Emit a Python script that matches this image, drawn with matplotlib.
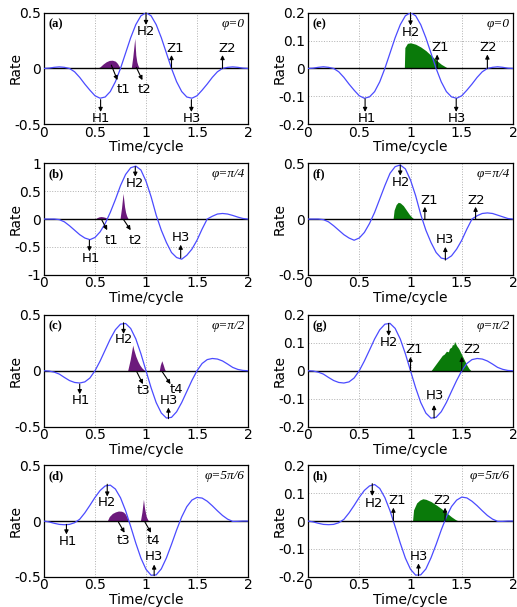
#!/usr/bin/env python

"""
Rate vs time/cycle for four phases (left: purple, right: green).
"""

import numpy as np
import matplotlib
matplotlib.use('Agg')
import matplotlib.pyplot as plt

plt.rcParams['font.family'] = ['DejaVu Sans']

# sampling grid of the curves (time/cycle)
time = np.linspace(0, 2, 41)

# left column
rate_a = [0, 0.003, 0.01, 0.014, 0.01, 0, -0.03, -0.08, -0.14, -0.195, -0.245,
	-0.267, -0.256, -0.207, -0.119, 0, 0.138, 0.276, 0.393, 0.472, 0.5,
	0.472, 0.393, 0.276, 0.138, 0, -0.119, -0.207, -0.256, -0.267, -0.245,
	-0.195, -0.14, -0.08, -0.03, 0, 0.01, 0.014, 0.01, 0.003, 0]
rate_b = [0, 0, 0, -0.01, -0.05, -0.12, -0.2, -0.28, -0.34, -0.37, -0.33,
	-0.23, -0.08, 0.12, 0.35, 0.6, 0.8, 0.92, 0.95, 0.88, 0.68,
	0.4, 0.07, -0.2, -0.42, -0.6, -0.69, -0.72, -0.65, -0.54, -0.38,
	-0.18, 0.0, 0.05, 0.09, 0.1, 0.09, 0.065, 0.035, 0.01, 0]
rate_c = [0, -0.003, -0.012, -0.03, -0.06, -0.088, -0.105, -0.11, -0.1, -0.065, 0,
	0.087, 0.186, 0.285, 0.368, 0.418, 0.424, 0.379, 0.286, 0.153, 0,
	-0.153, -0.286, -0.379, -0.424, -0.418, -0.368, -0.285, -0.186, -0.087, 0,
	0.065, 0.1, 0.11, 0.105, 0.088, 0.06, 0.03, 0.012, 0.003, 0]
rate_d = [0, -0.008, -0.02, -0.03, -0.033, -0.03, -0.015, 0.016, 0.073, 0.141, 0.212,
	0.274, 0.315, 0.322, 0.287, 0.209, 0.093, -0.049, -0.198, -0.332, -0.433,
	-0.486, -0.483, -0.429, -0.331, -0.209, -0.08, 0.037, 0.129, 0.188, 0.212,
	0.206, 0.178, 0.137, 0.092, 0.05, 0.017, -0.003, -0.002, 0, 0]

# right column
rate_e = [0, 0.001, 0.004, 0.006, 0.004, 0, -0.012, -0.032, -0.056, -0.078, -0.098,
	-0.107, -0.102, -0.083, -0.048, 0, 0.055, 0.11, 0.157, 0.189, 0.2,
	0.189, 0.157, 0.11, 0.055, 0, -0.048, -0.083, -0.102, -0.107, -0.098,
	-0.078, -0.056, -0.032, -0.012, 0, 0.004, 0.006, 0.004, 0.001, 0]
rate_f = [0, 0, 0, -0.005, -0.025, -0.06, -0.1, -0.14, -0.17, -0.19, -0.17,
	-0.12, -0.04, 0.06, 0.18, 0.3, 0.41, 0.47, 0.485, 0.45, 0.35,
	0.21, 0.04, -0.1, -0.21, -0.3, -0.35, -0.36, -0.33, -0.27, -0.19,
	-0.09, 0.0, 0.03, 0.05, 0.055, 0.05, 0.035, 0.02, 0.005, 0]
rate_g = [0, -0.001, -0.005, -0.012, -0.024, -0.035, -0.042, -0.044, -0.04, -0.026, 0,
	0.035, 0.074, 0.114, 0.147, 0.167, 0.17, 0.152, 0.114, 0.061, 0,
	-0.061, -0.114, -0.152, -0.17, -0.167, -0.147, -0.114, -0.074, -0.035, 0,
	0.026, 0.04, 0.044, 0.042, 0.035, 0.024, 0.012, 0.005, 0.001, 0]
rate_h = [0, -0.003, -0.008, -0.012, -0.013, -0.012, -0.006, 0.006, 0.029, 0.056, 0.085,
	0.11, 0.126, 0.131, 0.117, 0.084, 0.037, -0.02, -0.079, -0.133, -0.173,
	-0.194, -0.193, -0.172, -0.132, -0.084, -0.032, 0.015, 0.052, 0.075, 0.086,
	0.083, 0.071, 0.055, 0.037, 0.02, 0.007, -0.001, -0.001, 0, 0]

# shaded pulses (x, y)
fills_a = [
	([0.52, 0.55, 0.58, 0.61, 0.64, 0.67, 0.70, 0.72, 0.74, 0.75],
	 [0, 0.015, 0.04, 0.06, 0.072, 0.074, 0.065, 0.045, 0.015, 0]),
	([0.855, 0.87, 0.89, 0.9, 0.91, 0.92, 0.93, 0.94],
	 [0, 0.1, 0.27, 0.12, 0.06, 0.03, 0.01, 0]),
]
fills_b = [
	([0.5, 0.52, 0.54, 0.56, 0.58, 0.6, 0.62, 0.63],
	 [0, 0.025, 0.04, 0.045, 0.04, 0.03, 0.012, 0]),
	([0.745, 0.76, 0.775, 0.79, 0.8, 0.81, 0.82, 0.83],
	 [0, 0.2, 0.46, 0.22, 0.12, 0.06, 0.02, 0]),
]
fills_c = [
	([0.82, 0.845, 0.87, 0.88, 0.9, 0.92, 0.94, 0.96, 0.98, 0.99],
	 [0, 0.1, 0.23, 0.19, 0.13, 0.085, 0.05, 0.025, 0.008, 0]),
	([1.13, 1.14, 1.155, 1.17, 1.18, 1.19],
	 [0, 0.05, 0.09, 0.05, 0.02, 0]),
]
fills_d = [
	([0.62, 0.64, 0.67, 0.7, 0.73, 0.76, 0.78, 0.8, 0.82, 0.83],
	 [0, 0.04, 0.068, 0.082, 0.09, 0.088, 0.08, 0.06, 0.02, 0]),
	([0.945, 0.96, 0.975, 0.985, 1.0, 1.01, 1.02, 1.03],
	 [0, 0.08, 0.195, 0.12, 0.05, 0.025, 0.008, 0]),
]
fills_e = [
	([0.94, 0.945, 0.97, 1.0, 1.05, 1.1, 1.15, 1.2, 1.25, 1.3, 1.35, 1.37],
	 [0, 0.075, 0.09, 0.092, 0.087, 0.077, 0.064, 0.047, 0.03, 0.015, 0.004, 0]),
]
fills_f = [
	([0.83, 0.84, 0.86, 0.88, 0.9, 0.93, 0.96, 0.99, 1.02, 1.04],
	 [0, 0.08, 0.13, 0.15, 0.145, 0.12, 0.08, 0.04, 0.01, 0]),
]
fills_g = [
	([1.2, 1.23, 1.26, 1.29, 1.31, 1.33, 1.35, 1.37, 1.38, 1.4, 1.41, 1.42, 1.43,
	  1.45, 1.47, 1.49, 1.51, 1.53, 1.55, 1.57, 1.59],
	 [0, 0.015, 0.03, 0.045, 0.055, 0.06, 0.07, 0.068, 0.08, 0.085, 0.095, 0.092, 0.105,
	  0.09, 0.08, 0.065, 0.05, 0.035, 0.02, 0.008, 0]),
]
fills_h = [
	([1.02, 1.03, 1.06, 1.09, 1.12, 1.15, 1.2, 1.25, 1.3, 1.35, 1.4, 1.44, 1.47],
	 [0, 0.04, 0.065, 0.075, 0.08, 0.078, 0.07, 0.058, 0.045, 0.03, 0.015, 0.005, 0]),
]

# annotations: label, arrow tail, arrow head, text position
notes_a = [
	('H1', (0.555, -0.28), (0.555, -0.39), (0.56, -0.45)),
	('H2', (1.0, 0.5), (1.0, 0.39), (1.0, 0.33)),
	('t1', (0.66, 0.03), (0.72, -0.105), (0.78, -0.19)),
	('t2', (0.905, 0.01), (0.965, -0.105), (0.99, -0.19)),
	('Z1', (1.25, 0), (1.25, 0.12), (1.29, 0.18)),
	('Z2', (1.75, 0), (1.75, 0.12), (1.8, 0.18)),
	('H3', (1.445, -0.28), (1.445, -0.39), (1.455, -0.45)),
]
notes_b = [
	('H1', (0.445, -0.38), (0.445, -0.58), (0.46, -0.7)),
	('H2', (0.895, 0.94), (0.895, 0.76), (0.895, 0.63)),
	('t1', (0.565, -0.01), (0.62, -0.2), (0.66, -0.38)),
	('t2', (0.78, -0.01), (0.85, -0.2), (0.895, -0.38)),
	('H3', (1.34, -0.7), (1.34, -0.46), (1.34, -0.33)),
]
notes_c = [
	('H1', (0.35, -0.12), (0.35, -0.21), (0.365, -0.265)),
	('H2', (0.78, 0.43), (0.78, 0.33), (0.78, 0.28)),
	('t3', (0.91, -0.01), (0.97, -0.12), (0.98, -0.18)),
	('t4', (1.16, -0.01), (1.24, -0.12), (1.3, -0.165)),
	('H3', (1.22, -0.43), (1.22, -0.33), (1.22, -0.265)),
]
notes_d = [
	('H1', (0.22, -0.03), (0.22, -0.12), (0.235, -0.18)),
	('H2', (0.62, 0.33), (0.62, 0.22), (0.62, 0.165)),
	('t3', (0.73, -0.01), (0.79, -0.105), (0.78, -0.175)),
	('t4', (0.99, -0.01), (1.05, -0.105), (1.075, -0.175)),
	('H3', (1.08, -0.49), (1.08, -0.39), (1.08, -0.32)),
]
notes_e = [
	('H1', (0.557, -0.109), (0.557, -0.156), (0.575, -0.178)),
	('H2', (1.0, 0.2), (1.0, 0.154), (1.0, 0.13)),
	('Z1', (1.26, 0), (1.26, 0.05), (1.29, 0.076)),
	('Z2', (1.75, 0), (1.75, 0.05), (1.755, 0.076)),
	('H3', (1.446, -0.109), (1.446, -0.156), (1.455, -0.178)),
]
notes_f = [
	('H2', (0.9, 0.485), (0.9, 0.39), (0.905, 0.33)),
	('Z1', (1.14, 0), (1.14, 0.11), (1.18, 0.17)),
	('Z2', (1.635, 0), (1.635, 0.11), (1.64, 0.17)),
	('H3', (1.34, -0.368), (1.34, -0.25), (1.34, -0.18)),
]
notes_g = [
	('H2', (0.787, 0.17), (0.787, 0.125), (0.79, 0.1)),
	('Z1', (1.0, 0), (1.0, 0.05), (1.04, 0.077)),
	('Z2', (1.5, 0), (1.5, 0.05), (1.6, 0.077)),
	('H3', (1.23, -0.17), (1.23, -0.123), (1.235, -0.088)),
]
notes_h = [
	('H2', (0.627, 0.134), (0.627, 0.09), (0.64, 0.063)),
	('Z1', (0.833, 0), (0.833, 0.048), (0.87, 0.072)),
	('Z2', (1.337, 0), (1.337, 0.048), (1.31, 0.072)),
	('H3', (1.078, -0.196), (1.078, -0.152), (1.085, -0.126)),
]

phases = ['=0', '=\u03c0/4', '=\u03c0/2', '=5\u03c0/6']
yticks_left = [[-0.5, 0, 0.5], [-1, -0.5, 0, 0.5, 1], [-0.5, 0, 0.5], [-0.5, 0, 0.5]]
yticks_right = [[-0.2, -0.1, 0, 0.1, 0.2], [-0.5, 0, 0.5],
	[-0.2, -0.1, 0, 0.1, 0.2], [-0.2, -0.1, 0, 0.1, 0.2]]

PURPLE = '#6c1a7c'
GREEN = '#0a7a0a'
BLUE = '#4b4bff'
SERIF = ['Liberation Serif', 'DejaVu Serif']


def tick_text(v):
	if v == 0:
		return '0'
	return '%g' % v


def draw_panel(ax, rate, fills, color, notes, letter, phase, yticks):
	ax.axhline(0, color='k', lw=1.0, zorder=2)
	for fx, fy in fills:
		ax.fill_between(fx, 0, fy, color=color, lw=0, zorder=1)
	ax.plot(time, rate, color=BLUE, lw=0.9, zorder=3)

	for label, tail, head, pos in notes:
		ax.annotate('', xy=head, xytext=tail,
			arrowprops=dict(arrowstyle='-|>', color='k', lw=0.8,
				mutation_scale=6, shrinkA=0, shrinkB=0), zorder=4)
		ax.text(pos[0], pos[1], label, ha='center', va='center', fontsize=9.5, zorder=4)

	ax.set_xlim(0, 2)
	ax.set_ylim(yticks[0], yticks[-1])
	ax.set_xticks([0, 0.5, 1, 1.5, 2])
	ax.set_xticklabels(['0', '0.5', '1', '1.5', '2'])
	ax.set_yticks(yticks)
	ax.set_yticklabels([tick_text(v) for v in yticks])
	ax.tick_params(length=0, labelsize=10)
	ax.tick_params(axis='x', pad=1)
	ax.tick_params(axis='y', pad=2)
	ax.grid(True, color='#b0b0b0', ls=':', lw=0.7)
	ax.set_axisbelow(True)
	for sp in ax.spines.values():
		sp.set_linewidth(0.9)
	ax.set_xlabel('Time/cycle', fontsize=10)
	ax.set_ylabel('Rate', fontsize=10)
	ax.xaxis.set_label_coords(0.5, -0.145)
	ax.yaxis.set_label_coords(-0.105, 0.5)

	ax.text(0.02, 0.9, '(%s)' % letter, transform=ax.transAxes, ha='left', va='center',
		fontsize=9, fontweight='bold', family=SERIF)
	ax.text(0.985, 0.9, '\u03c6' + phase, transform=ax.transAxes, ha='right', va='center',
		fontsize=9.5, style='italic', family=SERIF)


def main():
	fig = plt.figure(figsize=(5.17, 6.07), dpi=100)

	tops = [12.7, 163.3, 315.0, 465.3]
	h = 111.5
	left_cols = [44 / 517.0, 308 / 517.0]
	widths = [204 / 517.0, 205 / 517.0]

	left = [
		(rate_a, fills_a, notes_a, 'a'),
		(rate_b, fills_b, notes_b, 'b'),
		(rate_c, fills_c, notes_c, 'c'),
		(rate_d, fills_d, notes_d, 'd'),
	]
	right = [
		(rate_e, fills_e, notes_e, 'e'),
		(rate_f, fills_f, notes_f, 'f'),
		(rate_g, fills_g, notes_g, 'g'),
		(rate_h, fills_h, notes_h, 'h'),
	]

	for i in range(4):
		bottom = 1 - (tops[i] + h) / 607.0
		ax = fig.add_axes([left_cols[0], bottom, widths[0], h / 607.0])
		rate, fills, notes, letter = left[i]
		draw_panel(ax, rate, fills, PURPLE, notes, letter, phases[i], yticks_left[i])

		ax = fig.add_axes([left_cols[1], bottom, widths[1], h / 607.0])
		rate, fills, notes, letter = right[i]
		draw_panel(ax, rate, fills, GREEN, notes, letter, phases[i], yticks_right[i])

	fig.savefig('out.png', dpi=100)


if __name__ == '__main__':
	main()
